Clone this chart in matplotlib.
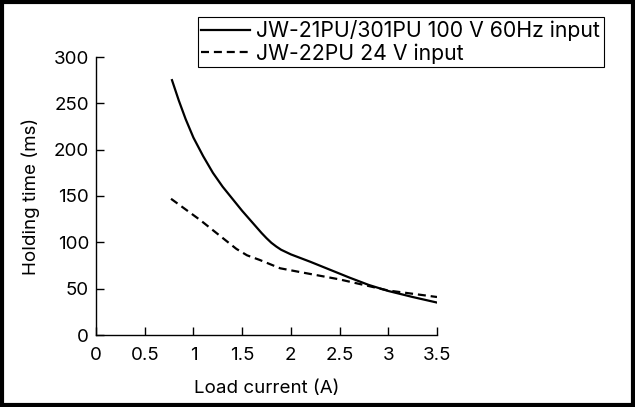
import numpy as np
import matplotlib
matplotlib.use("Agg")
from matplotlib import pyplot as plt
from matplotlib.patches import Rectangle

plt.rcParams['font.family'] = ['Inter', 'DejaVu Sans']

# values
ac_current = [0.78, 0.85, 0.92, 1.0, 1.1, 1.2, 1.3, 1.4, 1.5, 1.6, 1.7, 1.75, 1.8, 1.85,
              1.9, 1.95, 2.0, 2.1, 2.2, 2.4, 2.6, 2.8, 3.0, 3.25, 3.5]
ac_holding = [275, 253, 233, 213, 193, 175, 160, 147, 134, 122, 110, 104.5, 99.5, 95.5,
              92, 89.5, 87, 83, 79, 70.5, 62, 54, 47.5, 41, 35]
dc_current = [0.77, 1.07, 1.44, 1.55, 1.68, 1.89, 2.09, 2.5, 2.75, 3.0, 3.5]
dc_holding = [147, 124, 93, 86, 81, 72, 68, 60, 54, 48, 41]

x_ticks = [0, 0.5, 1, 1.5, 2, 2.5, 3, 3.5]
x_labels = ['0', '0.5', '1', '1.5', '2', '2.5', '3', '3.5']
y_ticks = [0, 50, 100, 150, 200, 250, 300]

W, H = 635, 407
fig = plt.figure(figsize=(W / 100, H / 100), dpi=100)
ax = fig.add_axes([96 / W, 1 - 335 / H, (437 - 96) / W, (335 - 57) / H])

ax.plot(ac_current, ac_holding, color='black', lw=1.6,
        label='JW-21PU/301PU 100 V 60Hz input')
ax.plot(dc_current, dc_holding, color='black', lw=1.6, dashes=(3.6, 2.2),
        label='JW-22PU 24 V input')

ax.set_xlim(0, 3.5)
ax.set_ylim(0, 300)
ax.set_xticks(x_ticks)
ax.set_xticklabels(x_labels)
ax.set_yticks(y_ticks)
for side in ['top', 'right']:
    ax.spines[side].set_visible(False)
for side in ['left', 'bottom']:
    ax.spines[side].set_linewidth(1.0)
ax.tick_params(direction='in', length=6, width=1.0, labelsize=13.5, pad=5)
ax.tick_params(axis='x', pad=9)

ax.set_xlabel('Load current (A)', fontsize=13.5, labelpad=11)
ax.set_ylabel('Holding time (ms)', fontsize=13.5, labelpad=10)

leg = fig.legend(loc='upper left', bbox_to_anchor=(198 / W, 1 - 17 / H),
                 fontsize=15.3, fancybox=False, framealpha=1,
                 edgecolor='black', handlelength=2.3, borderaxespad=0,
                 borderpad=0.15, labelspacing=0.1, handletextpad=0.3)
leg.get_frame().set_linewidth(0.8)

# outer border of the figure
fig.patches.append(Rectangle((0.003, 0.004), 0.994, 0.992, transform=fig.transFigure,
                             fill=False, edgecolor='black', lw=3))

fig.savefig('out.png', dpi=100)
